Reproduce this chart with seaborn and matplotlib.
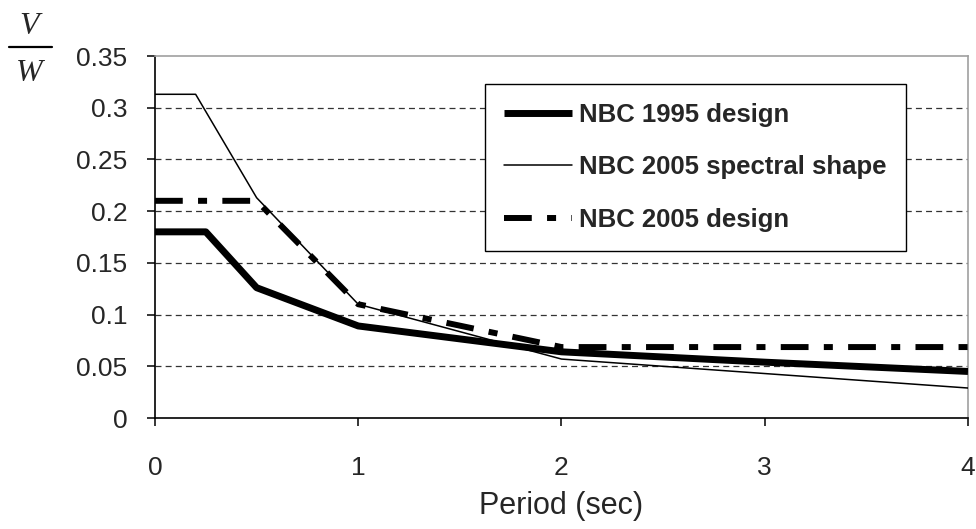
import matplotlib
matplotlib.use("Agg")
import matplotlib.pyplot as plt
import seaborn as sns
import pandas as pd
from matplotlib.lines import Line2D

# ---- data ----
period_1995 = [0.0, 0.25, 0.5, 1.0, 2.0, 3.0, 4.0]
vw_1995 = [0.18, 0.18, 0.126, 0.089, 0.064, 0.054, 0.045]

period_spec = [0.0, 0.2, 0.5, 1.0, 2.0, 3.0, 4.0]
vw_spec = [0.313, 0.313, 0.213, 0.11, 0.057, 0.043, 0.029]

period_2005 = [0.0, 0.5, 1.0, 2.0, 4.0]
vw_2005 = [0.21, 0.21, 0.11, 0.0686, 0.0686]

labels = ["NBC 1995 design", "NBC 2005 spectral shape", "NBC 2005 design"]
x_ticks = [0, 1, 2, 3, 4]
y_ticks = [0, 0.05, 0.1, 0.15, 0.2, 0.25, 0.3, 0.35]
y_tick_labels = ["0", "0.05", "0.1", "0.15", "0.2", "0.25", "0.3", "0.35"]

sns.set_style("white")
plt.rcParams["font.family"] = ["Liberation Sans", "DejaVu Sans"]
plt.rcParams["lines.scale_dashes"] = False

fig = plt.figure(figsize=(9.76, 5.29), dpi=100)
ax = fig.add_axes([0.1588, 0.2098, 0.8330, 0.6843])

# grid
for yv in y_ticks[1:-1]:
    ax.axhline(yv, color="#333333", lw=0.9, linestyle=(0, (4.3, 3.0)), zorder=1)

df1 = pd.DataFrame({"T": period_1995, "V": vw_1995})
df2 = pd.DataFrame({"T": period_spec, "V": vw_spec})
df3 = pd.DataFrame({"T": period_2005, "V": vw_2005})

sns.lineplot(data=df1, x="T", y="V", ax=ax, color="black", linewidth=5.0,
             estimator=None, sort=False, label=labels[0], zorder=3)
sns.lineplot(data=df2, x="T", y="V", ax=ax, color="black", linewidth=1.1,
             estimator=None, sort=False, label=labels[1], zorder=4)
sns.lineplot(data=df3, x="T", y="V", ax=ax, color="black", linewidth=4.3,
             estimator=None, sort=False, label=labels[2], zorder=5)
lines = ax.get_lines()[-3:]
lines[0].set_solid_capstyle("butt")
lines[2].set_linestyle((0, (20, 11, 6.5, 11)))

ax.set_xlim(0, 4)
ax.set_ylim(0, 0.35)
ax.set_xticks(x_ticks)
ax.set_xticklabels([str(v) for v in x_ticks])
ax.set_yticks(y_ticks)
ax.set_yticklabels(y_tick_labels)
ax.tick_params(axis="both", direction="out", length=6, width=1.1,
               color="black", labelsize=19, left=True, bottom=True)
ax.tick_params(axis="y", pad=14)
ax.tick_params(axis="x", pad=21)

for s in ["left", "bottom"]:
    ax.spines[s].set_color("black")
    ax.spines[s].set_linewidth(1.2)
for s in ["top", "right"]:
    ax.spines[s].set_color("#a0a0a0")
    ax.spines[s].set_linewidth(1.2)

ax.set_xlabel("Period (sec)", fontsize=22, labelpad=8)
ax.set_ylabel("")

leg = ax.legend(loc="upper left", bbox_to_anchor=(0.406, 0.923),
                borderaxespad=0,
                frameon=True, fancybox=False, framealpha=1, edgecolor="black",
                prop={"weight": "bold", "size": 18.5}, handlelength=2.65,
                handletextpad=0.27, labelspacing=1.1, borderpad=0.75)
leg.get_frame().set_linewidth(1.0)

# V / W fraction label
fig.text(0.030, 0.950, "V", fontsize=23, family="Liberation Serif",
         style="italic", ha="center", va="center")
fig.text(0.030, 0.862, "W", fontsize=23, family="Liberation Serif",
         style="italic", ha="center", va="center")
fig.add_artist(Line2D([0.009, 0.053], [0.911, 0.911], color="black",
                      lw=1.6, transform=fig.transFigure))

fig.savefig("out.png", dpi=100)
